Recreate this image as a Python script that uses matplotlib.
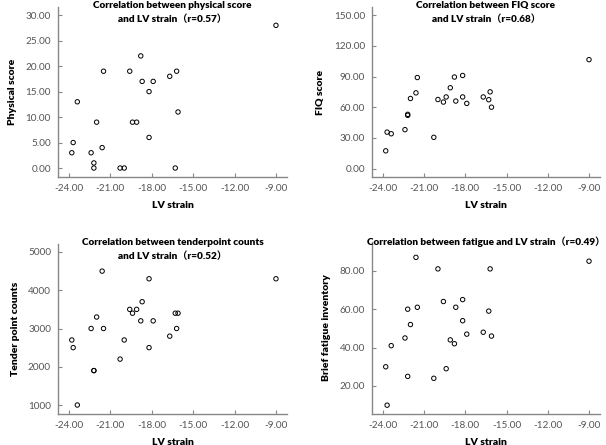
import numpy as np
import matplotlib.pyplot as plt
from matplotlib.ticker import FormatStrFormatter

plt.rcParams['font.family'] = ['Lato', 'DejaVu Sans', 'Noto Sans CJK SC']

# LV strain values (shared by all four panels)
lv_strain = [-23.8, -23.7, -23.4, -22.4, -22.2, -22.2, -22.0, -21.6, -21.5, -20.3,
             -20.0, -19.6, -19.4, -19.1, -18.8, -18.7, -18.2, -18.2, -17.9, -16.7,
             -16.3, -16.2, -16.1, -9.0]

physical = [3, 5, 13, 3, 1, 0, 9, 4, 19, 0,
            0, 19, 9, 9, 22, 17, 15, 6, 17, 18,
            0, 19, 11, 28]
fiq = [17.3, 35.6, 34, 38, 53, 52, 68.5, 74, 89, 30.5,
       67.5, 65, 70, 79, 89.5, 66, 91, 70, 63.7, 70,
       67.3, 75, 60, 106.5]
tender = [2700, 2500, 1000, 3000, 1900, 1900, 3300, 4500, 3000, 2200,
          2700, 3500, 3400, 3500, 3200, 3700, 4300, 2500, 3200, 2800,
          3400, 3000, 3400, 4300]
fatigue = [30, 10, 41, 45, 25, 60, 52, 87, 61, 24,
           81, 64, 29, 44, 42, 61, 65, 54, 47, 48,
           59, 81, 46, 85]

x_ticks = [-24, -21, -18, -15, -12, -9]

W, H = 606, 445
fig = plt.figure(figsize=(W / 100, H / 100), dpi=100)


def make_ax(l, r, t, b):
    return fig.add_axes([l / W, 1 - b / H, (r - l) / W, (b - t) / H])


panels = [
    # (box, y, ylim, yticks, yfmt, ylabel, title)
    ((58, 287, 7, 177), physical, (-1.76, 31.6), [0, 5, 10, 15, 20, 25, 30], '%.2f',
     'Physical score', 'Correlation between physical score\nand LV strain\uff08r=0.57\uff09'),
    ((372, 600, 7, 177), fiq, (-8.3, 158), [0, 30, 60, 90, 120, 150], '%.2f',
     'FIQ score', 'Correlation between FIQ score\nand LV strain\uff08r=0.68\uff09'),
    ((58, 287, 244, 414), tender, (765, 5209), [1000, 2000, 3000, 4000, 5000], '%d',
     'Tender point counts', 'Correlation between tenderpoint counts\nand LV strain\uff08r=0.52\uff09'),
    ((372, 600, 242, 414), fatigue, (5.4, 95), [20, 40, 60, 80], '%.2f',
     'Brief fatigue inventory', 'Correlation between fatigue and LV strain\uff08r=0.49\uff09'),
]

for box, ys, ylim, yticks, yfmt, ylabel, title in panels:
    ax = make_ax(*box)
    ax.scatter(lv_strain, ys, s=10, facecolors='none', edgecolors='black', linewidths=0.7, zorder=3)
    ax.set_xlim(-24.8, -8.2)
    ax.set_ylim(*ylim)
    ax.set_xticks(x_ticks)
    ax.set_yticks(yticks)
    ax.xaxis.set_major_formatter(FormatStrFormatter('%.2f'))
    ax.yaxis.set_major_formatter(FormatStrFormatter(yfmt))
    for s in ['top', 'right']:
        ax.spines[s].set_visible(False)
    for s in ['left', 'bottom']:
        ax.spines[s].set_color('#888888')
        ax.spines[s].set_linewidth(1.0)
    ax.tick_params(direction='in', length=3, width=0.8, color='#888888',
                   labelsize=7.2, labelcolor='#555555', pad=5)
    ax.set_xlabel('LV strain', fontsize=7.5, fontweight='heavy', labelpad=6)
    ax.set_ylabel(ylabel, fontsize=7.5, fontweight='heavy', labelpad=6)
    ax.text(0.5, 1.035, title, transform=ax.transAxes, ha='center', va='top',
            fontsize=7.2, fontweight='heavy', linespacing=1.6)

fig.savefig('out.png', dpi=100)
